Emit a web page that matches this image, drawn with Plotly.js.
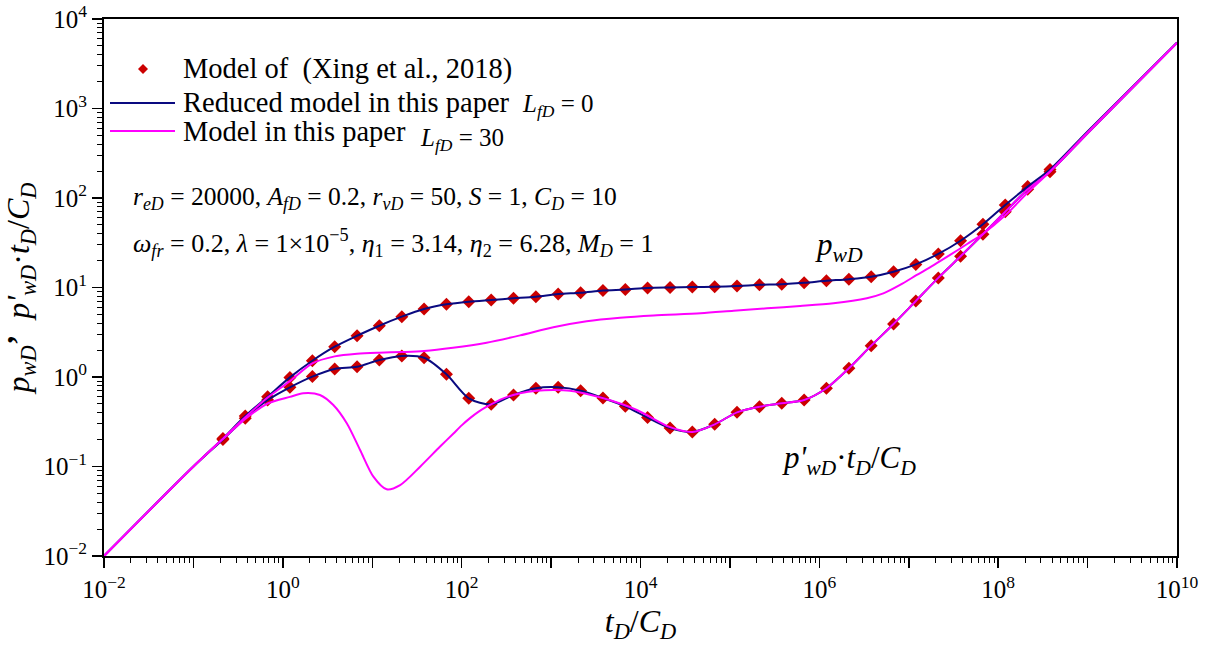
<!DOCTYPE html>
<html>
<head>
<meta charset="utf-8">
<script src="https://cdn.plot.ly/plotly-3.0.1.min.js"></script>
<style>
  html, body { margin: 0; padding: 0; background: #ffffff; }
  #chart { width: 1210px; height: 648px; }
</style>
</head>
<body>
<div id="chart"></div>
<script>
// Sampled solution of the reference model (Xing et al., 2018): tD/CD, pwD, derivative
const tMarker = [0.214, 0.38, 0.676, 1.2, 2.14, 3.8, 6.76, 12.0, 21.4, 38.0,
  67.6, 120, 214, 380, 676, 1200, 2140, 3800, 6760, 1.2e4,
  2.14e4, 3.8e4, 6.76e4, 1.2e5, 2.14e5, 3.8e5, 6.76e5, 1.2e6, 2.14e6, 3.8e6,
  6.76e6, 1.2e7, 2.14e7, 3.8e7, 6.76e7, 1.2e8, 2.14e8, 3.8e8];
const pMarker = [0.206, 0.366, 0.602, 0.99, 1.52, 2.18, 2.89, 3.74, 4.72, 5.75,
  6.49, 6.94, 7.25, 7.57, 7.89, 8.46, 8.75, 9.25, 9.5, 9.87,
  10.0, 10.1, 10.2, 10.4, 10.7, 10.9, 11.3, 11.9, 12.4, 13.2,
  15.0, 18.1, 23.7, 33.3, 50.9, 83.5, 134, 208];
const dMarker = [0.2, 0.346, 0.553, 0.767, 1.01, 1.23, 1.30, 1.55, 1.72, 1.64,
  1.07, 0.578, 0.495, 0.63, 0.748, 0.767, 0.703, 0.582, 0.471, 0.352,
  0.269, 0.243, 0.296, 0.403, 0.466, 0.508, 0.553, 0.748, 1.25, 2.24,
  3.91, 7.06, 12.8, 22.3, 39.4, 70.3, 125, 197];

// Reduced model (LfD = 0): same sample times, extended to both ends of the axis
const tReduced = [0.01, 0.1].concat(tMarker, [1e9, 1e10]);
const pReduced = [0.01, 0.1].concat(pMarker, [555, 5480]);
const dReduced = [0.01, 0.1].concat(dMarker, [530, 5400]);

// Full model (LfD = 30): pressure curve
const tFullP = [0.01, 0.1, 0.214, 0.38, 0.676, 1.2, 2.14, 3.8, 6.76, 12,
  21.4, 38, 80, 190, 450, 1060, 2500, 5900, 1.4e4, 4.7e4,
  1.1e5, 2.6e5, 6.1e5, 1.44e6, 3.4e6, 5.2e6, 8e6, 1.23e7, 1.9e7, 2.9e7,
  4.5e7, 6.9e7, 1.2e8, 2.14e8, 3.8e8, 1e9, 1e10];
const pFull = [0.01, 0.1, 0.205, 0.355, 0.59, 0.9, 1.42, 1.7, 1.82, 1.87,
  1.9, 1.95, 2.12, 2.42, 2.92, 3.6, 4.2, 4.6, 4.88, 5.15,
  5.5, 5.86, 6.21, 6.66, 7.6, 8.6, 10.7, 13.8, 17.8, 23.1,
  30.6, 40.4, 64, 115, 198, 540, 5430];

// Full model (LfD = 30): derivative curve
const tFullD = [0.01, 0.1, 0.214, 0.38, 0.676, 1.2, 1.69, 2.6, 3.67, 5.19,
  7.31, 10.3, 14.5, 20.5, 34.3, 57, 81, 100, 124, 155, 191, 293,
  450, 692, 1060, 1630, 3850, 9100, 2.14e4, 3.8e4, 6.76e4, 1.2e5,
  2.14e5, 3.8e5, 6.76e5, 1.2e6, 2.14e6, 3.8e6, 6.76e6, 1.2e7, 2.14e7, 3.8e7,
  6.76e7, 1.2e8, 2.14e8, 3.8e8, 1e9, 1e10];
const dFull = [0.01, 0.1, 0.203, 0.34, 0.506, 0.6, 0.658, 0.63, 0.486, 0.304,
  0.153, 0.077, 0.0556, 0.062, 0.0995, 0.166, 0.234, 0.288, 0.347, 0.41, 0.466, 0.578,
  0.657, 0.703, 0.716, 0.703, 0.578, 0.428, 0.275, 0.243, 0.296, 0.403,
  0.466, 0.508, 0.553, 0.748, 1.25, 2.24, 3.91, 7.06, 12.8, 22.3,
  39.4, 70.3, 125, 197, 530, 5400];

// Axis decades and labels
const xDecades = [1e-2, 1e-1, 1e0, 1e1, 1e2, 1e3, 1e4, 1e5, 1e6, 1e7, 1e8, 1e9, 1e10];
const xLabels = ['10<sup>−2</sup>', '', '10<sup>0</sup>', '', '10<sup>2</sup>', '',
  '10<sup>4</sup>', '', '10<sup>6</sup>', '', '10<sup>8</sup>', '', '10<sup>10</sup>'];
const yDecades = [1e-2, 1e-1, 1e0, 1e1, 1e2, 1e3, 1e4];
const yLabels = ['10<sup>−2</sup>', '10<sup>−1</sup>', '10<sup>0</sup>', '10<sup>1</sup>',
  '10<sup>2</sup>', '10<sup>3</sup>', '10<sup>4</sup>'];

const NAVY = '#0a0a80';
const MAGENTA = '#ff00ff';
const MARKER_RED = '#cc0000';
const SERIF = 'Liberation Serif';

// minor ticks 2..9 inside each decade
function minorTicks(lo, hi) {
  const v = [];
  for (let e = lo; e < hi; e++) for (let m = 2; m <= 9; m++) v.push(m * Math.pow(10, e));
  return v;
}

const traces = [
  { x: tMarker, y: pMarker, mode: 'markers', type: 'scatter', showlegend: false,
    marker: { symbol: 'diamond', size: 10, color: MARKER_RED } },
  { x: tMarker, y: dMarker, mode: 'markers', type: 'scatter', showlegend: false,
    marker: { symbol: 'diamond', size: 10, color: MARKER_RED } },
  { x: tReduced, y: pReduced, mode: 'lines', type: 'scatter', showlegend: false,
    line: { color: NAVY, width: 2, shape: 'spline', smoothing: 0.8 } },
  { x: tReduced, y: dReduced, mode: 'lines', type: 'scatter', showlegend: false,
    line: { color: NAVY, width: 2, shape: 'spline', smoothing: 0.8 } },
  { x: tFullP, y: pFull, mode: 'lines', type: 'scatter', showlegend: false,
    line: { color: MAGENTA, width: 2, shape: 'spline', smoothing: 0.8 } },
  { x: tFullD, y: dFull, mode: 'lines', type: 'scatter', showlegend: false,
    line: { color: MAGENTA, width: 2, shape: 'spline', smoothing: 0.8 } }
];

const px = v => (v - 104) / 1073;   // page pixel -> paper x
const py = v => (556 - v) / 537;    // page pixel -> paper y

const txt = (text, x, y, size, anchor) => ({
  xref: 'paper', yref: 'paper', x: px(x), y: py(y), text: text, showarrow: false,
  xanchor: anchor || 'left', yanchor: 'middle',
  font: { family: SERIF, size: size, color: '#000' }
});

const annotations = [
  txt('Model of  (Xing et al., 2018)', 181, 69, 28.5),
  txt('Reduced model in this paper', 181, 103, 28.5),
  txt('<i>L</i><sub><i>fD</i></sub> = 0', 520, 105, 25),
  txt('Model in this paper', 181, 131, 28.5),
  txt('<i>L</i><sub><i>fD</i></sub> = 30', 418, 139, 25),
  txt('<i>r</i><sub><i>eD</i></sub> = 20000, <i>A</i><sub><i>fD</i></sub> = 0.2, <i>r</i><sub><i>vD</i></sub> = 50, <i>S</i> = 1, <i>C</i><sub><i>D</i></sub> = 10', 131, 198, 25.5),
  txt('<i>ω</i><sub><i>fr</i></sub> = 0.2, <i>λ</i> = 1×10<sup>−5</sup>, <i>η</i><sub>1</sub> = 3.14, <i>η</i><sub>2</sub> = 6.28, <i>M</i><sub><i>D</i></sub> = 1', 131, 243, 26),
  txt('<i>p</i><sub><i>wD</i></sub>', 839, 247, 31, 'center'),
  txt('<i>p\'</i><sub><i>wD</i></sub>·<i>t</i><sub><i>D</i></sub>/<i>C</i><sub><i>D</i></sub>', 849, 460, 31, 'center')
];

const shapes = [
  { type: 'path', xref: 'paper', yref: 'paper',
    path: 'M ' + px(143) + ',' + py(64) + ' L ' + px(148) + ',' + py(69) + ' L ' + px(143) + ',' + py(74) + ' L ' + px(138) + ',' + py(69) + ' Z',
    fillcolor: MARKER_RED, line: { width: 0 } },
  { type: 'line', xref: 'paper', yref: 'paper', x0: px(110), x1: px(175), y0: py(103), y1: py(103),
    line: { color: NAVY, width: 2 } },
  { type: 'line', xref: 'paper', yref: 'paper', x0: px(110), x1: px(175), y0: py(131), y1: py(131),
    line: { color: MAGENTA, width: 2 } }
];

const layout = {
  width: 1210, height: 648,
  margin: { l: 104, r: 33, t: 19, b: 92 },
  paper_bgcolor: '#ffffff', plot_bgcolor: '#ffffff',
  font: { family: SERIF, color: '#000' },
  showlegend: false,
  xaxis: {
    type: 'log', range: [-2, 10], tickmode: 'array', tickvals: xDecades, ticktext: xLabels,
    ticks: 'outside', ticklen: 10, tickwidth: 1.5, tickcolor: '#000',
    minor: { tickmode: 'array', tickvals: minorTicks(-2, 10), ticks: 'outside', ticklen: 5, tickwidth: 1, tickcolor: '#000' },
    showline: true, linecolor: '#000', linewidth: 2, mirror: true,
    showgrid: false, zeroline: false,
    tickfont: { family: SERIF, size: 25, color: '#000' },
    title: { text: '<i>t</i><sub><i>D</i></sub>/<i>C</i><sub><i>D</i></sub>', font: { family: SERIF, size: 32, color: '#000' }, standoff: 8 }
  },
  yaxis: {
    type: 'log', range: [-2, 4], tickmode: 'array', tickvals: yDecades, ticktext: yLabels,
    ticks: 'outside', ticklen: 10, tickwidth: 1.5, tickcolor: '#000',
    minor: { tickmode: 'array', tickvals: minorTicks(-2, 4), ticks: 'outside', ticklen: 5, tickwidth: 1, tickcolor: '#000' },
    showline: true, linecolor: '#000', linewidth: 2, mirror: true,
    showgrid: false, zeroline: false,
    tickfont: { family: SERIF, size: 25, color: '#000' },
    title: { text: '<i>p</i><sub><i>wD</i></sub><b>’</b>  <i>p\'</i><sub><i>wD</i></sub>·<i>t</i><sub><i>D</i></sub>/<i>C</i><sub><i>D</i></sub>', font: { family: SERIF, size: 32, color: '#000' }, standoff: 8 }
  },
  annotations: annotations,
  shapes: shapes
};

Plotly.newPlot('chart', traces, layout, { displayModeBar: false, staticPlot: true });
</script>
</body>
</html>
